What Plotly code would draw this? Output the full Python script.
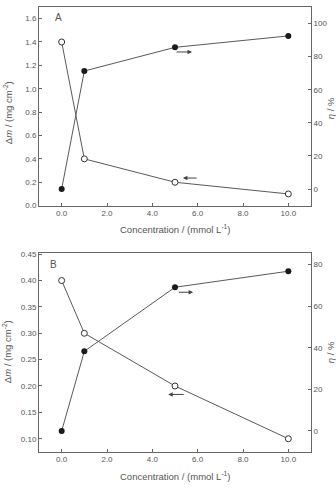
import plotly.graph_objects as go

conc = [0, 1, 5, 10]
dm_A = [1.40, 0.40, 0.20, 0.10]
eta_A = [0.0, 71.3, 85.6, 92.5]
dm_B = [0.40, 0.30, 0.20, 0.10]
eta_B = [0.0, 38.3, 69.1, 76.8]
x_ticks = [0, 2, 4, 6, 8, 10]
x_ticklabels = ["0.0", "2.0", "4.0", "6.0", "8.0", "10.0"]

W, H = 336, 489
GRAY = "#555555"
LINE = "#5a5a5a"
FONT = "Liberation Sans, Arial, sans-serif"

def px_x(a, b):
    return [a / W, b / W]

def px_y(top, bottom):
    return [(H - bottom) / H, (H - top) / H]

fig = go.Figure()

open_marker = dict(symbol="circle", size=6, color="white", line=dict(color="#333333", width=1))
fill_marker = dict(symbol="circle", size=6, color="#1a1a1a")
line_style = dict(color=LINE, width=1)

fig.add_trace(go.Scatter(x=conc, y=dm_A, mode="lines+markers", line=line_style,
                         marker=open_marker, xaxis="x", yaxis="y", showlegend=False))
fig.add_trace(go.Scatter(x=conc, y=eta_A, mode="lines+markers", line=line_style,
                         marker=fill_marker, xaxis="x", yaxis="y2", showlegend=False))
fig.add_trace(go.Scatter(x=conc, y=dm_B, mode="lines+markers", line=line_style,
                         marker=open_marker, xaxis="x2", yaxis="y3", showlegend=False))
fig.add_trace(go.Scatter(x=conc, y=eta_B, mode="lines+markers", line=line_style,
                         marker=fill_marker, xaxis="x2", yaxis="y4", showlegend=False))

axis_common = dict(showgrid=False, zeroline=False, showline=True, linecolor="#666666",
                   linewidth=1, ticks="inside", ticklen=3, tickcolor="#666666",
                   tickfont=dict(size=8, color=GRAY, family=FONT))

xa_dom = px_x(39, 311)
ya_dom = px_y(4, 206)
yb_dom = px_y(254.3, 456)

fig.update_layout(
    width=W, height=H,
    margin=dict(l=0, r=0, t=0, b=0),
    paper_bgcolor="white", plot_bgcolor="white",
    xaxis=dict(domain=xa_dom, range=[-1, 11], tickvals=x_ticks, ticktext=x_ticklabels,
               anchor="y", mirror=True, **axis_common),
    yaxis=dict(domain=ya_dom, range=[0, 1.7], tickvals=[0, 0.2, 0.4, 0.6, 0.8, 1.0, 1.2, 1.4, 1.6],
               tickformat=".1f", anchor="x", **axis_common),
    yaxis2=dict(domain=ya_dom, range=[-10, 110], tickvals=[0, 20, 40, 60, 80, 100],
                overlaying="y", side="right", anchor="x", **axis_common),
    xaxis2=dict(domain=xa_dom, range=[-1, 11], tickvals=x_ticks, ticktext=x_ticklabels,
                anchor="y3", mirror=True, **axis_common),
    yaxis3=dict(domain=yb_dom, range=[0.0757, 0.452], tickvals=[0.10, 0.15, 0.20, 0.25, 0.30, 0.35, 0.40, 0.45],
                tickformat=".2f", anchor="x2", **axis_common),
    yaxis4=dict(domain=yb_dom, range=[-9.9, 85.5], tickvals=[0, 20, 40, 60, 80],
                overlaying="y3", side="right", anchor="x2", **axis_common),
)

ann = []
def arrow(xh, yh, xt, yt, xref, yref):
    ann.append(dict(x=xh, y=yh, ax=xt, ay=yt, xref=xref, yref=yref, axref=xref, ayref=yref,
                    showarrow=True, arrowhead=2, arrowsize=0.9, arrowwidth=1, arrowcolor="#444444", text=""))

arrow(5.75, 82.8, 5.0, 82.8, "x", "y2")
arrow(5.35, 0.236, 6.02, 0.236, "x", "y")
arrow(5.8, 66.7, 5.1, 66.7, "x2", "y4")
arrow(4.7, 0.184, 5.45, 0.184, "x2", "y3")

def ptext(text, x, y, size, angle=0):
    ann.append(dict(text=text, x=x / W, y=(H - y) / H, xref="paper", yref="paper",
                    showarrow=False, textangle=angle, xanchor="center", yanchor="middle",
                    font=dict(size=size, color=GRAY, family=FONT)))

ptext("A", 58, 15, 10)
ptext("B", 53, 266, 10)
ptext("Concentration / (mmol L<sup>-1</sup>)", 175, 230, 9.5)
ptext("Concentration / (mmol L<sup>-1</sup>)", 175, 481, 9.5)
ptext("Δ<i>m</i> / (mg cm<sup>-2</sup>)", 8, 112, 9.5, -90)
ptext("Δ<i>m</i> / (mg cm<sup>-2</sup>)", 7, 355, 9.5, -90)
ptext("<i>η</i> / %", 330, 107, 9.5, -90)
ptext("<i>η</i> / %", 330, 355, 9.5, -90)

fig.update_layout(annotations=ann)
fig.write_html("out.html")
